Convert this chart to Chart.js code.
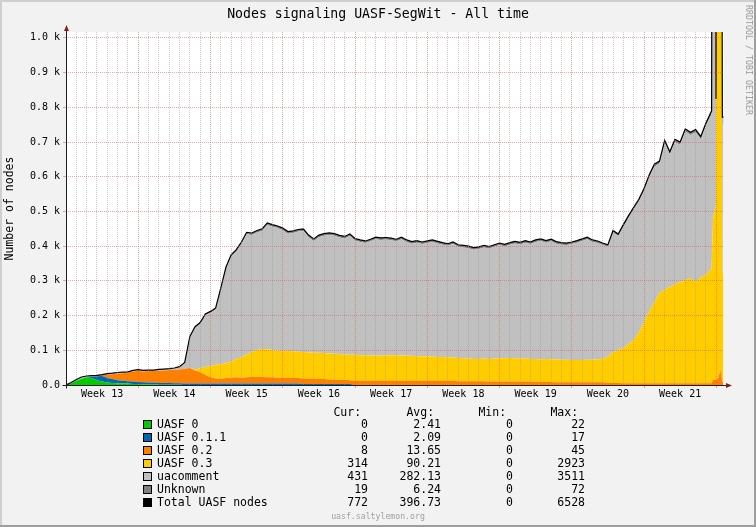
<!DOCTYPE html>
<html>
<head>
<meta charset="utf-8">
<script src="https://cdn.jsdelivr.net/npm/chart.js@4.4.1/dist/chart.umd.min.js"></script>
<style>
  html, body { margin: 0; padding: 0; background: #f2f2f2; }
  #wrap { position: relative; width: 756px; height: 527px; overflow: hidden;
          font-family: "DejaVu Sans Mono", monospace; }
  #wrap canvas { position: absolute; left: 0; top: 0; }
  .t { position: absolute; white-space: pre; color: #000; }
  #title { left: 0; width: 756px; top: 6px; text-align: center; font-size: 13.2px; line-height: 16px; }
  #credit { left: 749px; top: 60px; font-size: 8.3px; color: #999999;
            transform: translate(-50%, -50%) rotate(90deg); }
  #footer { left: 0; width: 756px; top: 511px; text-align: center; font-size: 8.2px; line-height: 11px; color: #a0a0a0; }
  .lg { font-size: 11.5px; line-height: 13px; }
  .num { text-align: right; width: 80px; }
  .sw { position: absolute; width: 7px; height: 7px; border: 1px solid #000; }
</style>
</head>
<body>
<div id="wrap">
  <canvas id="chart" width="756" height="527"></canvas>
  <div class="t" id="title">Nodes signaling UASF-SegWit - All time</div>
  <div class="t" id="credit">RRDTOOL / TOBI OETIKER</div>
  <div id="legend"></div>
  <div class="t" id="footer">uasf.saltylemon.org</div>
</div>
<script>
// sample times, in days from the start of week 13
const sampleDay = [
  0, 0.5, 1, 1.5, 2, 2.5, 3, 3.5, 4, 4.5, 5, 5.5, 6, 6.5, 7, 7.5, 8, 8.5, 9, 9.5,
  10, 10.5, 11, 11.5, 12, 12.5, 13, 13.5, 14, 14.5, 15, 15.5, 16, 16.5, 17, 17.5, 18, 18.5, 19, 19.5,
  20, 20.5, 21, 21.5, 22, 22.5, 23, 23.5, 24, 24.5, 25, 25.5, 26, 26.5, 27, 27.5, 28, 28.5, 29, 29.5,
  30, 30.5, 31, 31.5, 32, 32.5, 33, 33.5, 34, 34.5, 35, 35.5, 36, 36.5, 37, 37.5, 38, 38.5, 39, 39.5,
  40, 40.5, 41, 41.5, 42, 42.5, 43, 43.5, 44, 44.5, 45, 45.5, 46, 46.5, 47, 47.5, 48, 48.5, 49, 49.5,
  50, 50.5, 51, 51.5, 52, 52.5, 53, 53.5, 54, 54.5, 55, 55.5, 56, 56.5, 57, 57.5, 58, 58.5, 59, 59.5,
  60, 60.5, 61, 61.5, 62,
  62.55, 62.69, 62.84, 62.98, 63.2, 63.41, 63.59, 63.7
];

const uasf0 = [
  0, 5, 12, 18, 22, 20, 14, 10, 7, 6, 5, 4, 4, 3, 3, 2, 2, 2, 1, 1,
  1, 1, 1, 0, 0, 0, 0, 0, 0, 0, 0, 0, 0, 0, 0, 0, 0, 0, 0, 0,
  0, 0, 0, 0, 0, 0, 0, 0, 0, 0, 0, 0, 0, 0, 0, 0, 0, 0, 0, 0,
  0, 0, 0, 0, 0, 0, 0, 0, 0, 0, 0, 0, 0, 0, 0, 0, 0, 0, 0, 0,
  0, 0, 0, 0, 0, 0, 0, 0, 0, 0, 0, 0, 0, 0, 0, 0, 0, 0, 0, 0,
  0, 0, 0, 0, 0, 0, 0, 0, 0, 0, 0, 0, 0, 0, 0, 0, 0, 0, 0, 0,
  0, 0, 0, 0, 0,
  0, 0, 0, 0, 0, 0, 0, 0
];
const uasf011 = [
  0, 0, 0, 0, 2, 4, 11, 16, 13, 11, 9, 8, 7, 7, 6, 6, 5, 5, 5, 5,
  5, 4, 4, 4, 4, 4, 4, 4, 4, 4, 4, 4, 4, 4, 4, 4, 4, 4, 4, 4,
  4, 4, 4, 4, 4, 4, 3, 3, 3, 3, 3, 3, 3, 3, 3, 3, 0, 0, 0, 0,
  0, 0, 0, 0, 0, 0, 0, 0, 0, 0, 0, 0, 0, 0, 0, 0, 0, 0, 0, 0,
  0, 0, 0, 0, 0, 0, 0, 0, 0, 0, 0, 0, 0, 0, 0, 0, 0, 0, 0, 0,
  0, 0, 0, 0, 0, 0, 0, 0, 0, 0, 0, 0, 0, 0, 0, 0, 0, 0, 0, 0,
  0, 0, 0, 0, 0,
  0, 0, 0, 0, 0, 0, 0, 0
];
const uasf02 = [
  0, 0, 0, 0, 0, 0, 1, 3, 10, 14, 19, 22, 25, 29, 32, 31, 33, 33, 35, 36,
  37, 38, 40, 43, 45, 38, 33, 25, 18, 15, 14, 16, 17, 18, 17, 18, 19, 19, 19, 18,
  18, 17, 16, 16, 16, 16, 16, 16, 15, 15, 14, 13, 13, 12, 12, 11, 12, 12, 12, 12,
  12, 12, 12, 12, 12, 12, 12, 12, 12, 12, 12, 12, 12, 12, 12, 12, 11, 11, 11, 11,
  11, 11, 10, 10, 10, 10, 10, 10, 10, 10, 10, 9, 9, 9, 9, 8, 8, 8, 8, 8,
  8, 8, 8, 8, 8, 6, 6, 6, 5, 5, 5, 5, 5, 5, 5, 5, 5, 5, 5, 5,
  5, 5, 5, 5, 5,
  5, 15, 15, 15, 20, 45, 8, 8
];
const uasf03 = [
  0, 0, 0, 0, 0, 0, 0, 0, 0, 0, 0, 0, 0, 0, 0, 0, 0, 0, 0, 0,
  0, 0, 0, 0, 0, 3, 11, 23, 33, 39, 42, 43, 47, 53, 59, 66, 73, 77, 81, 81,
  79, 78, 78, 79, 77, 76, 76, 75, 75, 75, 75, 75, 74, 74, 73, 73, 75, 74, 74, 73,
  73, 72, 73, 74, 74, 73, 73, 72, 71, 71, 70, 70, 69, 69, 68, 67, 67, 66, 65, 64,
  64, 65, 65, 66, 67, 67, 68, 67, 66, 66, 65, 66, 65, 66, 65, 66, 65, 65, 64, 64,
  64, 65, 65, 66, 67, 76, 88, 94, 102, 113, 125, 147, 175, 207, 233, 261, 270, 277, 285, 292,
  297, 303, 292, 306, 312,
  332, 465, 485, 505, 2923, 2900, 314, 314
];
const uacomment = [
  0, 2, 4, 4, 1, 2, 1, 0, 2, 2, 2, 2, 1, 2, 2, 2, 2, 2, 3, 3,
  3, 5, 7, 16, 88, 120, 128, 149, 153, 159, 215, 272, 302, 309, 326, 346, 336, 339, 340, 358,
  355, 353, 348, 337, 341, 346, 349, 332, 322, 333, 338, 341, 340, 336, 334, 342, 329, 326, 323, 329,
  335, 334, 334, 331, 328, 335, 327, 323, 327, 323, 327, 330, 327, 323, 321, 327, 320, 319, 318, 315,
  317, 320, 318, 322, 326, 322, 326, 331, 329, 334, 331, 337, 341, 335, 340, 333, 331, 330, 334, 338,
  343, 347, 339, 335, 328, 316, 345, 329, 348, 363, 375, 376, 379, 386, 391, 372, 422, 382, 410, 395,
  428, 412, 431, 397, 430,
  443, 3200, 3511, 284, 450, 440, 431, 431
];
const unknown = [
  0, 0, 0, 1, 1, 1, 1, 1, 1, 1, 1, 1, 1, 1, 1, 1, 1, 1, 1, 1,
  1, 1, 1, 2, 3, 3, 4, 4, 4, 5, 5, 5, 5, 6, 6, 6, 6, 6, 6, 6,
  6, 6, 6, 6, 6, 6, 6, 6, 6, 6, 6, 6, 6, 6, 6, 6, 6, 6, 6, 6,
  6, 6, 6, 6, 6, 6, 6, 6, 6, 6, 6, 6, 6, 6, 6, 6, 6, 6, 6, 6,
  6, 6, 6, 6, 6, 6, 6, 6, 6, 6, 6, 6, 6, 6, 6, 6, 6, 6, 6, 6,
  6, 6, 6, 6, 6, 6, 6, 6, 7, 7, 7, 7, 7, 7, 7, 7, 8, 8, 8, 8,
  8, 8, 8, 8, 8,
  10, 40, 72, 20, 20, 20, 19, 19
];
const totalNodes = [
  0, 7, 16, 23, 26, 27, 28, 30, 33, 34, 36, 37, 38, 42, 44, 42, 43, 43, 45, 46,
  47, 49, 53, 65, 140, 168, 180, 205, 212, 222, 280, 340, 375, 390, 412, 440, 438, 445, 450, 467,
  462, 458, 452, 442, 444, 448, 450, 432, 421, 432, 436, 438, 436, 431, 428, 435, 422, 418, 415, 420,
  426, 424, 425, 423, 420, 426, 418, 413, 416, 412, 415, 418, 414, 410, 407, 412, 404, 402, 400, 396,
  398, 402, 399, 404, 409, 405, 410, 414, 411, 416, 412, 418, 421, 416, 420, 413, 410, 409, 412, 416,
  421, 426, 418, 415, 409, 404, 445, 435, 462, 488, 512, 535, 566, 605, 636, 645, 705, 672, 708, 700,
  738, 728, 736, 716, 755,
  790, 3720, 4083, 824, 3413, 3405, 772, 772
];

const weekLabels = ['Week 13', 'Week 14', 'Week 15', 'Week 16', 'Week 17', 'Week 18', 'Week 19', 'Week 20', 'Week 21'];
const yTickLabels = ['0.0', '0.1 k', '0.2 k', '0.3 k', '0.4 k', '0.5 k', '0.6 k', '0.7 k', '0.8 k', '0.9 k', '1.0 k'];

const seriesNames = ['UASF 0', 'UASF 0.1.1', 'UASF 0.2', 'UASF 0.3', 'uacomment', 'Unknown', 'Total UASF nodes'];
const seriesColors = ['#00cc00', '#0066b3', '#ff8000', '#ffcc00', '#c0c0c0', '#808080', '#000000'];
const statCur = ['0', '0', '8', '314', '431', '19', '772'];
const statAvg = ['2.41', '2.09', '13.65', '90.21', '282.13', '6.24', '396.73'];
const statMin = ['0', '0', '0', '0', '0', '0', '0'];
const statMax = ['22', '17', '45', '2923', '3511', '72', '6528'];

const FONT = '"DejaVu Sans Mono", monospace';
const MINOR_GRID = 'rgba(143,143,143,0.45)';
const MAJOR_GRID = 'rgba(222,79,79,0.5)';

const pts = (vals) => vals.map((v, i) => ({ x: sampleDay[i], y: v }));

// fondo, marco y ejes con flechas al estilo rrdtool
const rrdFrame = {
    id: 'rrdFrame',
    beforeDraw(chart) {
        const { ctx, chartArea: a, width, height } = chart;
        ctx.save();
        ctx.fillStyle = '#f2f2f2';
        ctx.fillRect(0, 0, width, height);
        ctx.fillStyle = '#ffffff';
        ctx.fillRect(a.left, a.top, a.right - a.left, a.bottom - a.top);
        ctx.fillStyle = '#cfcfcf';
        ctx.fillRect(0, 0, width, 2);
        ctx.fillRect(0, 0, 2, height);
        ctx.fillStyle = '#9e9e9e';
        ctx.fillRect(0, height - 2, width, 2);
        ctx.fillRect(width - 2, 0, 2, height);
        ctx.restore();
    },
    afterDraw(chart) {
        const { ctx, chartArea: a } = chart;
        const x0 = Math.round(a.left) + 0.5;
        const y0 = Math.round(a.bottom) + 0.5;
        ctx.save();
        ctx.strokeStyle = '#1f1f1f';
        ctx.lineWidth = 1;
        ctx.beginPath();
        ctx.moveTo(x0, y0 + 3);
        ctx.lineTo(x0, a.top - 3);
        ctx.moveTo(x0 - 4, y0);
        ctx.lineTo(a.right + 3, y0);
        ctx.stroke();
        ctx.fillStyle = '#801f1f';
        ctx.beginPath();
        ctx.moveTo(x0 - 2.5, a.top - 1);
        ctx.lineTo(x0 + 2.5, a.top - 1);
        ctx.lineTo(x0, a.top - 7);
        ctx.closePath();
        ctx.moveTo(a.right + 2, y0 - 2.5);
        ctx.lineTo(a.right + 2, y0 + 2.5);
        ctx.lineTo(a.right + 8, y0);
        ctx.closePath();
        ctx.fill();
        ctx.restore();
    }
};

// capas apiladas: la primera rellena hasta el origen, el resto hasta la anterior
const area = (label, vals, color, first) => ({
    label,
    data: pts(vals),
    backgroundColor: color,
    borderColor: color,
    borderWidth: 0,
    pointRadius: 0,
    fill: first ? 'origin' : '-1',
    stack: 'nodes',
    order: 1,
});

new Chart(document.getElementById('chart'), {
    type: 'line',
    data: {
        datasets: [
            area('UASF 0', uasf0, seriesColors[0], true),
            area('UASF 0.1.1', uasf011, seriesColors[1]),
            area('UASF 0.2', uasf02, seriesColors[2]),
            area('UASF 0.3', uasf03, seriesColors[3]),
            area('uacomment', uacomment, seriesColors[4]),
            area('Unknown', unknown, seriesColors[5]),
            {
                label: 'Total UASF nodes',
                data: pts(totalNodes),
                borderColor: '#000000',
                backgroundColor: '#000000',
                borderWidth: 1.2,
                pointRadius: 0,
                fill: false,
                stack: 'total',
                order: 0,
            },
        ],
    },
    options: {
        responsive: false,
        animation: false,
        events: [],
        layout: { padding: { left: 0, right: 32, top: 32, bottom: 0 } },
        plugins: { legend: { display: false }, tooltip: { enabled: false } },
        scales: {
            x: {
                type: 'linear',
                min: 0,
                max: 63.75,
                afterBuildTicks: (scale) => {
                    const ticks = [];
                    for (let d = 0; d <= 63; d++) ticks.push({ value: d });
                    weekLabels.forEach((_, i) => ticks.push({ value: i * 7 + 3.5 }));
                    ticks.sort((a, b) => a.value - b.value);
                    scale.ticks = ticks;
                },
                afterFit: (scale) => { scale.height = 142; },
                ticks: {
                    autoSkip: false,
                    maxRotation: 0,
                    padding: 0,
                    color: '#000',
                    font: { family: FONT, size: 10 },
                    callback: (value) => {
                        const w = (value - 3.5) / 7;
                        return Number.isInteger(w) ? weekLabels[w] : '';
                    },
                },
                grid: {
                    z: 1,
                    tickLength: 3,
                    color: (ctx) => {
                        const v = ctx.tick.value;
                        if (!Number.isInteger(v)) return 'rgba(0,0,0,0)';
                        return v % 7 === 0 ? MAJOR_GRID : MINOR_GRID;
                    },
                    tickColor: (ctx) => {
                        const v = ctx.tick.value;
                        return Number.isInteger(v) && v % 7 === 0 ? MAJOR_GRID : 'rgba(0,0,0,0)';
                    },
                },
                border: { display: false, dash: [1, 1] },
            },
            y: {
                stacked: true,
                min: 0,
                max: 1017,
                afterBuildTicks: (scale) => {
                    scale.ticks = yTickLabels.map((_, i) => ({ value: i * 100 }));
                },
                afterFit: (scale) => { scale.width = 66; },
                ticks: {
                    padding: 3,
                    color: '#000',
                    font: { family: FONT, size: 10 },
                    callback: (value, index) => yTickLabels[index],
                },
                grid: { z: 1, tickLength: 3, color: MAJOR_GRID, tickColor: MAJOR_GRID },
                border: { display: false, dash: [1, 1] },
                title: {
                    display: true,
                    text: 'Number of nodes',
                    color: '#000',
                    font: { family: FONT, size: 11.5 },
                    padding: { top: 3, bottom: 0 },
                },
            },
        },
    },
    plugins: [rrdFrame],
});

// leyenda con columnas Cur / Avg / Min / Max
const legend = document.getElementById('legend');
const rowTop = 418, rowStep = 13;
const columns = [
    { right: 368, head: 'Cur: ', vals: statCur },
    { right: 441, head: 'Avg: ', vals: statAvg },
    { right: 513, head: 'Min: ', vals: statMin },
    { right: 585, head: 'Max: ', vals: statMax },
];
const addText = (txt, left, top, cls) => {
    const el = document.createElement('div');
    el.className = 't lg ' + (cls || '');
    el.textContent = txt;
    el.style.left = left + 'px';
    el.style.top = top + 'px';
    legend.appendChild(el);
};
columns.forEach((c) => {
    addText(c.head, c.right - 80, rowTop - rowStep + 0.5, 'num');
    c.vals.forEach((v, i) => addText(v, c.right - 80, rowTop + i * rowStep, 'num'));
});
seriesNames.forEach((name, i) => {
    const sw = document.createElement('div');
    sw.className = 'sw';
    sw.style.background = seriesColors[i];
    sw.style.left = '143px';
    sw.style.top = (rowTop + i * rowStep + 2) + 'px';
    legend.appendChild(sw);
    addText(name, 157, rowTop + i * rowStep);
});
</script>
</body>
</html>
